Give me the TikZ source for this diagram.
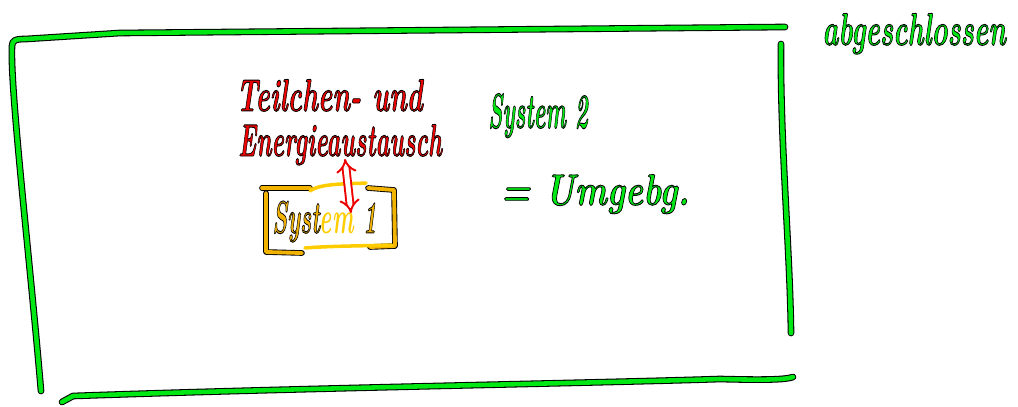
\documentclass[tikz,border=0pt]{standalone}
\usepackage{xcolor}
\usepackage{graphicx}
\usetikzlibrary{arrows.meta}

\definecolor{sketchgreen}{RGB}{0,232,20}
\definecolor{sketchred}{RGB}{236,0,0}
\definecolor{sysorange}{RGB}{242,178,0}
\definecolor{sysyellow}{RGB}{255,204,0}
% narrow, tall handwriting with a black rim
\newcommand{\squeezed}[3]{\scalebox{#1}[#2]{#3}}
\newcommand{\inked}[1]{\special{pdf:literal 0 0 0 RG 2 Tr 0.4 w}#1\special{pdf:literal 0 Tr}}

\begin{document}
\begin{tikzpicture}[x=0.02cm,y=-0.02cm,
  frame/.style={draw=black,line width=0.6pt,double=sketchgreen,double distance=2.6pt,line cap=round,line join=round},
  orbox/.style={draw=black,line width=0.5pt,double=sysorange,double distance=2.2pt,line cap=round,line join=round},
  ylbox/.style={draw=sysyellow,line width=2pt,line cap=round},
  hand/.style={inner sep=0pt,font=\fontsize{20}{26}\selectfont\itshape\bfseries},
  greentext/.style={hand,text=sketchgreen},
  redtext/.style={hand,text=sketchred},
  exarrow/.style={draw=sketchred,line width=1.1pt,double=white,double distance=2.8pt,{Implies[scale=1.3]}-{Implies[scale=1.3]}}]
  \useasboundingbox (0,0) rectangle (1018,406);

  % closed system frame
  \draw[frame] (41,391) .. controls (30,260) and (10,90) .. (12,46)
    .. controls (12,40) and (16,39) .. (26,39) -- (120,33) -- (785,27);
  \draw[frame] (781,44) .. controls (780,140) and (790,250) .. (791,333);
  \draw[frame] (62,402) -- (73,396) .. controls (300,388) and (600,383) .. (720,379)
    .. controls (760,380) and (785,380) .. (793,377);

  % system 1 box
  \draw[orbox] (310,188) -- (262,188);
  \draw[orbox] (266,193) -- (266,252) -- (302,253);
  \draw[orbox] (368,188) -- (394,190) -- (395,246) -- (370,247);
  \draw[ylbox] (310,191) .. controls (320,183) and (350,184) .. (366,183);
  \draw[ylbox] (305,248) .. controls (330,246) and (360,246) .. (392,245);

  \node[hand,anchor=base west] (sys1) at (272,233)
    {\squeezed{0.65}{1.3}{\color{sysorange}\inked{Syst}\color{sysyellow}em \color{sysorange}\inked{1}}};

  % labels
  \node[redtext,anchor=base west] (exchA) at (236,111) {\squeezed{0.77}{1.3}{\inked{Teilchen- und}}};
  \node[redtext,anchor=base west] (exchB) at (238,156) {\squeezed{0.67}{1.3}{\inked{Energieaustausch}}};
  \node[greentext,anchor=base west] (sys2) at (488,128) {\squeezed{0.62}{1.4}{\inked{System 2}}};
  \node[greentext,anchor=base west] (env) at (500,205) {\squeezed{0.97}{1.25}{\inked{= Umgebg.}}};
  \node[greentext,anchor=base west] (closed) at (822,45) {\squeezed{0.77}{1.3}{\inked{abgeschlossen}}};

  % exchange arrow
  \coordinate (arrtop) at (345,159);
  \coordinate (arrbot) at (351,213);
  \draw[exarrow] (arrtop) -- (arrbot);
\end{tikzpicture}
\end{document}
